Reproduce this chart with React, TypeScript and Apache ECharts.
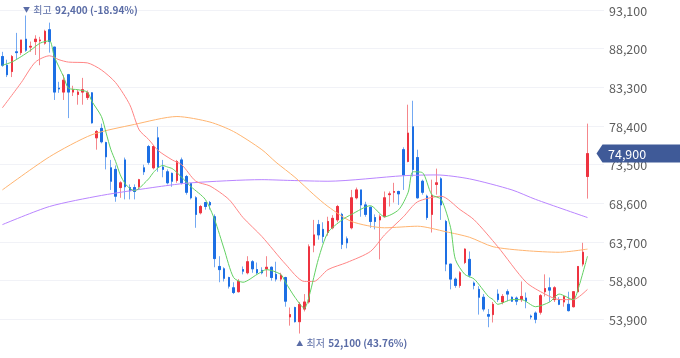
import React, { useEffect, useRef } from 'react';
import * as echarts from 'echarts';

// [open, close, low, high]
const candles: number[][] = [
  [87200, 86100, 85900, 87800], [86100, 84900, 84600, 86800], [85300, 87200, 84600, 87400], [87800, 87700, 86800, 90200],
  [87700, 89300, 87400, 89300], [89400, 88000, 87800, 92400], [88400, 88500, 87800, 89100], [89100, 89400, 87400, 89900],
  [89200, 89300, 86100, 89700], [88900, 90400, 88700, 90600], [90600, 89100, 87700, 91500], [88400, 82700, 81700, 88400],
  [83200, 83100, 82600, 84000], [82700, 84200, 81700, 84900], [84900, 82700, 79400, 85000], [82700, 83000, 82200, 83500],
  [82400, 82700, 81100, 83000], [82700, 83000, 81100, 84500], [82000, 82600, 81700, 82900], [82600, 78800, 78700, 82700],
  [76900, 77700, 75400, 77900], [78100, 76400, 76200, 78700], [76300, 74500, 72900, 76400], [73100, 71400, 70300, 74100],
  [72900, 69500, 68800, 73400], [70600, 71200, 69300, 71400], [74100, 70700, 69100, 74400], [70600, 70200, 69100, 71000],
  [70600, 70100, 69100, 71000], [70700, 71600, 70300, 71700], [73100, 72600, 72200, 73500], [75800, 73800, 73500, 76000],
  [73100, 75800, 72900, 76000], [76900, 73200, 72600, 78300], [73200, 72900, 71900, 74100], [72600, 71200, 71000, 72900],
  [72400, 71400, 70700, 72500], [71500, 73900, 71200, 74100], [74100, 71200, 71000, 74400], [72000, 70000, 69700, 72200],
  [71100, 69300, 69100, 71200], [69300, 67200, 65500, 69500], [67400, 68200, 67200, 68400], [68700, 68200, 67800, 68800],
  [68700, 68400, 67800, 68900], [66900, 61600, 60500, 67200], [60600, 60200, 58600, 61900], [60300, 59100, 58700, 60500],
  [59200, 58100, 57800, 59300], [57900, 57300, 57100, 58600], [57400, 58700, 57300, 59000], [60200, 60000, 59600, 60600],
  [59800, 61200, 59600, 61900], [61200, 60300, 59800, 61400], [60200, 59800, 59600, 61100], [60100, 59800, 59600, 60500],
  [60300, 60500, 59300, 61900], [60500, 59200, 58800, 60600], [59600, 59000, 58700, 61200], [59000, 59500, 58700, 59800],
  [59200, 56200, 55500, 59300], [54200, 54500, 53100, 55400], [55400, 53600, 53500, 55500], [53600, 55800, 52100, 56100],
  [55200, 56100, 54900, 57100], [56100, 63100, 55900, 63400], [63300, 64600, 62400, 66500], [65900, 64600, 64000, 66500],
  [65300, 64400, 63600, 66200], [64900, 66300, 64500, 66900], [65500, 66700, 65300, 67100], [66500, 68200, 66200, 68400],
  [67200, 63400, 62800, 67400], [64100, 63600, 62900, 64400], [65500, 69300, 65300, 70300], [69300, 70300, 69100, 70600],
  [70300, 68400, 66900, 70300], [68400, 67200, 66900, 68800], [68100, 66300, 65500, 68200], [66800, 66300, 65300, 67200],
  [66500, 66900, 61500, 67200], [66900, 69300, 66800, 70100], [69700, 69800, 68200, 70100], [70000, 70100, 68700, 71200],
  [70100, 69800, 68400, 70200], [75400, 72200, 70300, 75700], [73900, 77500, 73800, 81100], [78300, 72900, 72000, 81600],
  [74400, 69300, 69200, 75400], [71400, 70000, 69700, 71600], [69500, 66800, 66500, 69700], [67200, 69600, 64900, 71600],
  [71000, 71200, 69700, 73000], [71700, 68400, 66500, 71900], [66300, 60900, 60000, 66500], [60900, 59000, 57700, 60900],
  [59000, 58200, 57900, 59200], [58200, 59800, 57900, 60000], [61100, 62800, 60900, 62900], [61500, 59500, 59200, 62500],
  [58500, 58200, 57700, 58700], [57700, 56700, 54500, 58100], [56700, 55200, 54900, 57100], [54500, 54300, 52900, 55200],
  [54500, 55800, 53500, 56100], [57100, 56400, 56100, 57700], [56100, 56800, 55800, 57100], [57400, 57100, 56200, 57700],
  [56700, 56200, 56100, 56800], [56600, 56200, 55700, 56800], [56400, 56800, 56100, 58700], [56600, 56200, 55300, 57300],
  [54300, 54200, 53900, 54500], [54700, 53900, 53400, 54900], [54800, 56900, 54500, 57100], [57400, 57800, 56800, 59600],
  [57900, 57600, 56100, 59200], [56400, 57900, 56100, 58100], [56400, 55800, 55700, 56700], [56100, 56800, 55500, 56800],
  [55800, 55000, 54900, 57400], [55500, 57400, 55400, 57400], [57400, 60600, 57300, 60600], [60900, 62400, 60600, 63600],
  [72000, 74900, 69200, 78700],
];

// moving averages read at sample candles: [candle index, value]
const ma5: number[][] = [
  [0, 86100], [2, 86500], [4, 87200], [6, 88000], [8, 88900], [10, 89200], [11, 87200], [13, 84600], [14, 83200], [16, 83000],
  [18, 82700], [19, 81500], [21, 79600], [22, 77500], [23, 75400], [24, 73900], [25, 72200], [26, 71100], [27, 70500], [28, 70200],
  [29, 70500], [30, 71100], [31, 71700], [32, 72500], [33, 73100], [34, 73400], [35, 73200], [36, 73000], [37, 72500], [40, 70700],
  [43, 69100], [45, 66500], [47, 62800], [49, 59200], [51, 58600], [54, 59600], [56, 60200], [59, 59600], [60, 58600], [62, 56700],
  [64, 55300], [65, 56800], [67, 61600], [69, 64900], [72, 66500], [74, 67200], [78, 68300], [81, 66900], [84, 67800], [86, 70000],
  [87, 72600], [89, 72500], [91, 69700], [93, 69100], [95, 65500], [96, 61500], [98, 59600], [100, 59000], [103, 56800], [104, 56400],
  [105, 55800], [108, 56400], [110, 56400], [113, 55500], [116, 56100], [118, 57100], [121, 56400], [122, 57700], [124, 61900],
];
const ma20: number[][] = [
  [0, 80700], [4, 83900], [7, 86500], [10, 87300], [12, 86800], [14, 86500], [18, 86400], [21, 85500], [24, 83900], [27, 81100],
  [29, 77900], [31, 76700], [33, 75300], [36, 74100], [38, 73500], [41, 71400], [44, 70800], [48, 69100], [51, 66800], [55, 64400],
  [60, 60900], [64, 58700], [66, 58700], [69, 60200], [73, 61100], [78, 62500], [81, 64600], [85, 66900], [88, 68800], [93, 69500],
  [97, 67800], [100, 66500], [105, 63100], [111, 58600], [115, 57100], [118, 56400], [121, 56400], [124, 57700],
];
const ma60: number[][] = [
  [0, 70300], [10, 74500], [19, 77300], [28, 78600], [37, 79600], [44, 78900], [49, 77700], [55, 75400], [58, 73800], [62, 71900],
  [66, 69700], [69, 68200], [74, 66300], [81, 65500], [88, 65700], [94, 65000], [99, 64300], [104, 63100], [111, 62600], [118, 62400],
  [124, 62800],
];
const ma120: number[][] = [
  [0, 65900], [10, 68200], [21, 69600], [33, 70700], [40, 71200], [55, 71600], [61, 71500], [69, 71400], [85, 72100], [92, 72200],
  [99, 71700], [108, 70300], [113, 69100], [124, 66800],
];

const yMin = 49000;
const yMax = 93100;
const yStep = 4900;
const hiIndex = 5;
const loIndex = 63;
const hiText = '최고';
const loText = '최저';
const hiPct = '(-18.94%)';
const loPct = '(43.76%)';
const emptySlots = 3;

const fmt = (v: number) => String(v).replace(/\B(?=(\d{3})+(?!\d))/g, ',');

export default function App() {
  const ref = useRef<HTMLDivElement>(null);
  useEffect(() => {
    const chart = echarts.init(ref.current!, null, { renderer: 'svg' });
    const n = candles.length + emptySlots;
    const cats = Array.from({ length: n }, (_, i) => String(i));
    const toLine = (pts: number[][]) => {
      const arr: (number | null)[] = new Array(n).fill(null);
      pts.forEach(([i, v]) => { arr[i] = v; });
      return arr;
    };
    const RED = '#ee3340';
    const RED_W = '#f5878c';
    const BLUE = '#1d6fe4';
    const BLUE_W = '#74a9f2';
    const ANN = '#5a6ca6';
    const font = '"Noto Sans CJK KR", "Noto Sans", sans-serif';
    const gridLeft = 0;
    const gridWidth = 604;
    const hi = candles[hiIndex][3];
    const lo = candles[loIndex][2];
    const last = candles[candles.length - 1][1];
    const lineSeries = (name: string, pts: number[][], color: string) => ({
      name, type: 'line', data: toLine(pts), connectNulls: true, smooth: 0.25,
      showSymbol: false, symbol: 'none', lineStyle: { width: 1, color }, itemStyle: { color }, z: 3,
    });
    const rich = {
      t: { fontSize: 7, color: ANN, fontFamily: font },
      k: { fontSize: 10, color: ANN, fontFamily: font },
      n: { fontSize: 10, color: ANN, fontFamily: font, fontWeight: 'bold' },
    };
    chart.setOption({
      animation: false,
      grid: { left: gridLeft, top: 10, width: gridWidth, height: 348.75 },
      xAxis: {
        type: 'category', data: cats, boundaryGap: true,
        axisLine: { show: false }, axisTick: { show: false }, axisLabel: { show: false }, splitLine: { show: false },
      },
      yAxis: {
        type: 'value', position: 'right', min: yMin, max: yMax, interval: yStep, scale: true,
        axisLine: { show: false }, axisTick: { show: false },
        axisLabel: {
          margin: 5, color: '#5e5e5e', fontSize: 12.5, fontFamily: font,
          formatter: (v: number) => (v <= yMin ? '' : fmt(v)),
        },
        splitLine: { lineStyle: { color: '#f1f2f7', width: 1 } },
      },
      series: [
        {
          type: 'candlestick', data: candles.map((c) => [c[0], c[1], c[2], c[3]]), barWidth: 2,
          itemStyle: { color: RED_W, color0: BLUE_W, borderColor: RED_W, borderColor0: BLUE_W, borderWidth: 1 },
          z: 2,
        },
        {
          type: 'candlestick',
          data: candles.map((c) => [c[0], c[1], Math.min(c[0], c[1]), Math.max(c[0], c[1])]),
          barWidth: 2,
          itemStyle: { color: RED, color0: BLUE, borderColor: RED, borderColor0: BLUE, borderWidth: 1 },
          z: 2,
          markPoint: {
            symbol: 'circle', symbolSize: 1, itemStyle: { color: 'rgba(0,0,0,0)' },
            data: [
              {
                coord: [hiIndex, hi],
                label: {
                  show: true, position: 'inside', align: 'left', verticalAlign: 'middle', offset: [-3, -6.5],
                  formatter: `{t|▼} {k|${hiText}} {n|${fmt(hi)} ${hiPct}}`,
                  rich,
                },
              },
              {
                coord: [loIndex, lo],
                label: {
                  show: true, position: 'inside', align: 'left', verticalAlign: 'middle', offset: [-3.5, 9],
                  formatter: `{t|▲} {k|${loText}} {n|${fmt(lo)} ${loPct}}`,
                  rich,
                },
              },
            ],
          },
        },
        lineSeries('MA120', ma120, '#b985ff'),
        lineSeries('MA60', ma60, '#ffb470'),
        lineSeries('MA20', ma20, '#ff8585'),
        lineSeries('MA5', ma5, '#62d062'),
      ],
    });
    const y = chart.convertToPixel({ yAxisIndex: 0 }, last) as number;
    const xr = gridLeft + gridWidth;
    chart.setOption({
      graphic: [
        {
          type: 'polygon', z: 100,
          shape: { points: [[xr - 7.5, y], [xr - 1.5, y - 9], [700, y - 9], [700, y + 9], [xr - 1.5, y + 9]] },
          style: { fill: '#3f5a98' },
        },
        {
          type: 'text', z: 101, x: xr + 4, y,
          style: { text: fmt(last), fill: '#ffffff', fontSize: 12.5, fontFamily: font, verticalAlign: 'middle' },
        },
      ],
    });
    return () => chart.dispose();
  }, []);
  return <div ref={ref} style={{ position: 'fixed', left: 0, top: 0, width: 680, height: 358 }} />;
}
